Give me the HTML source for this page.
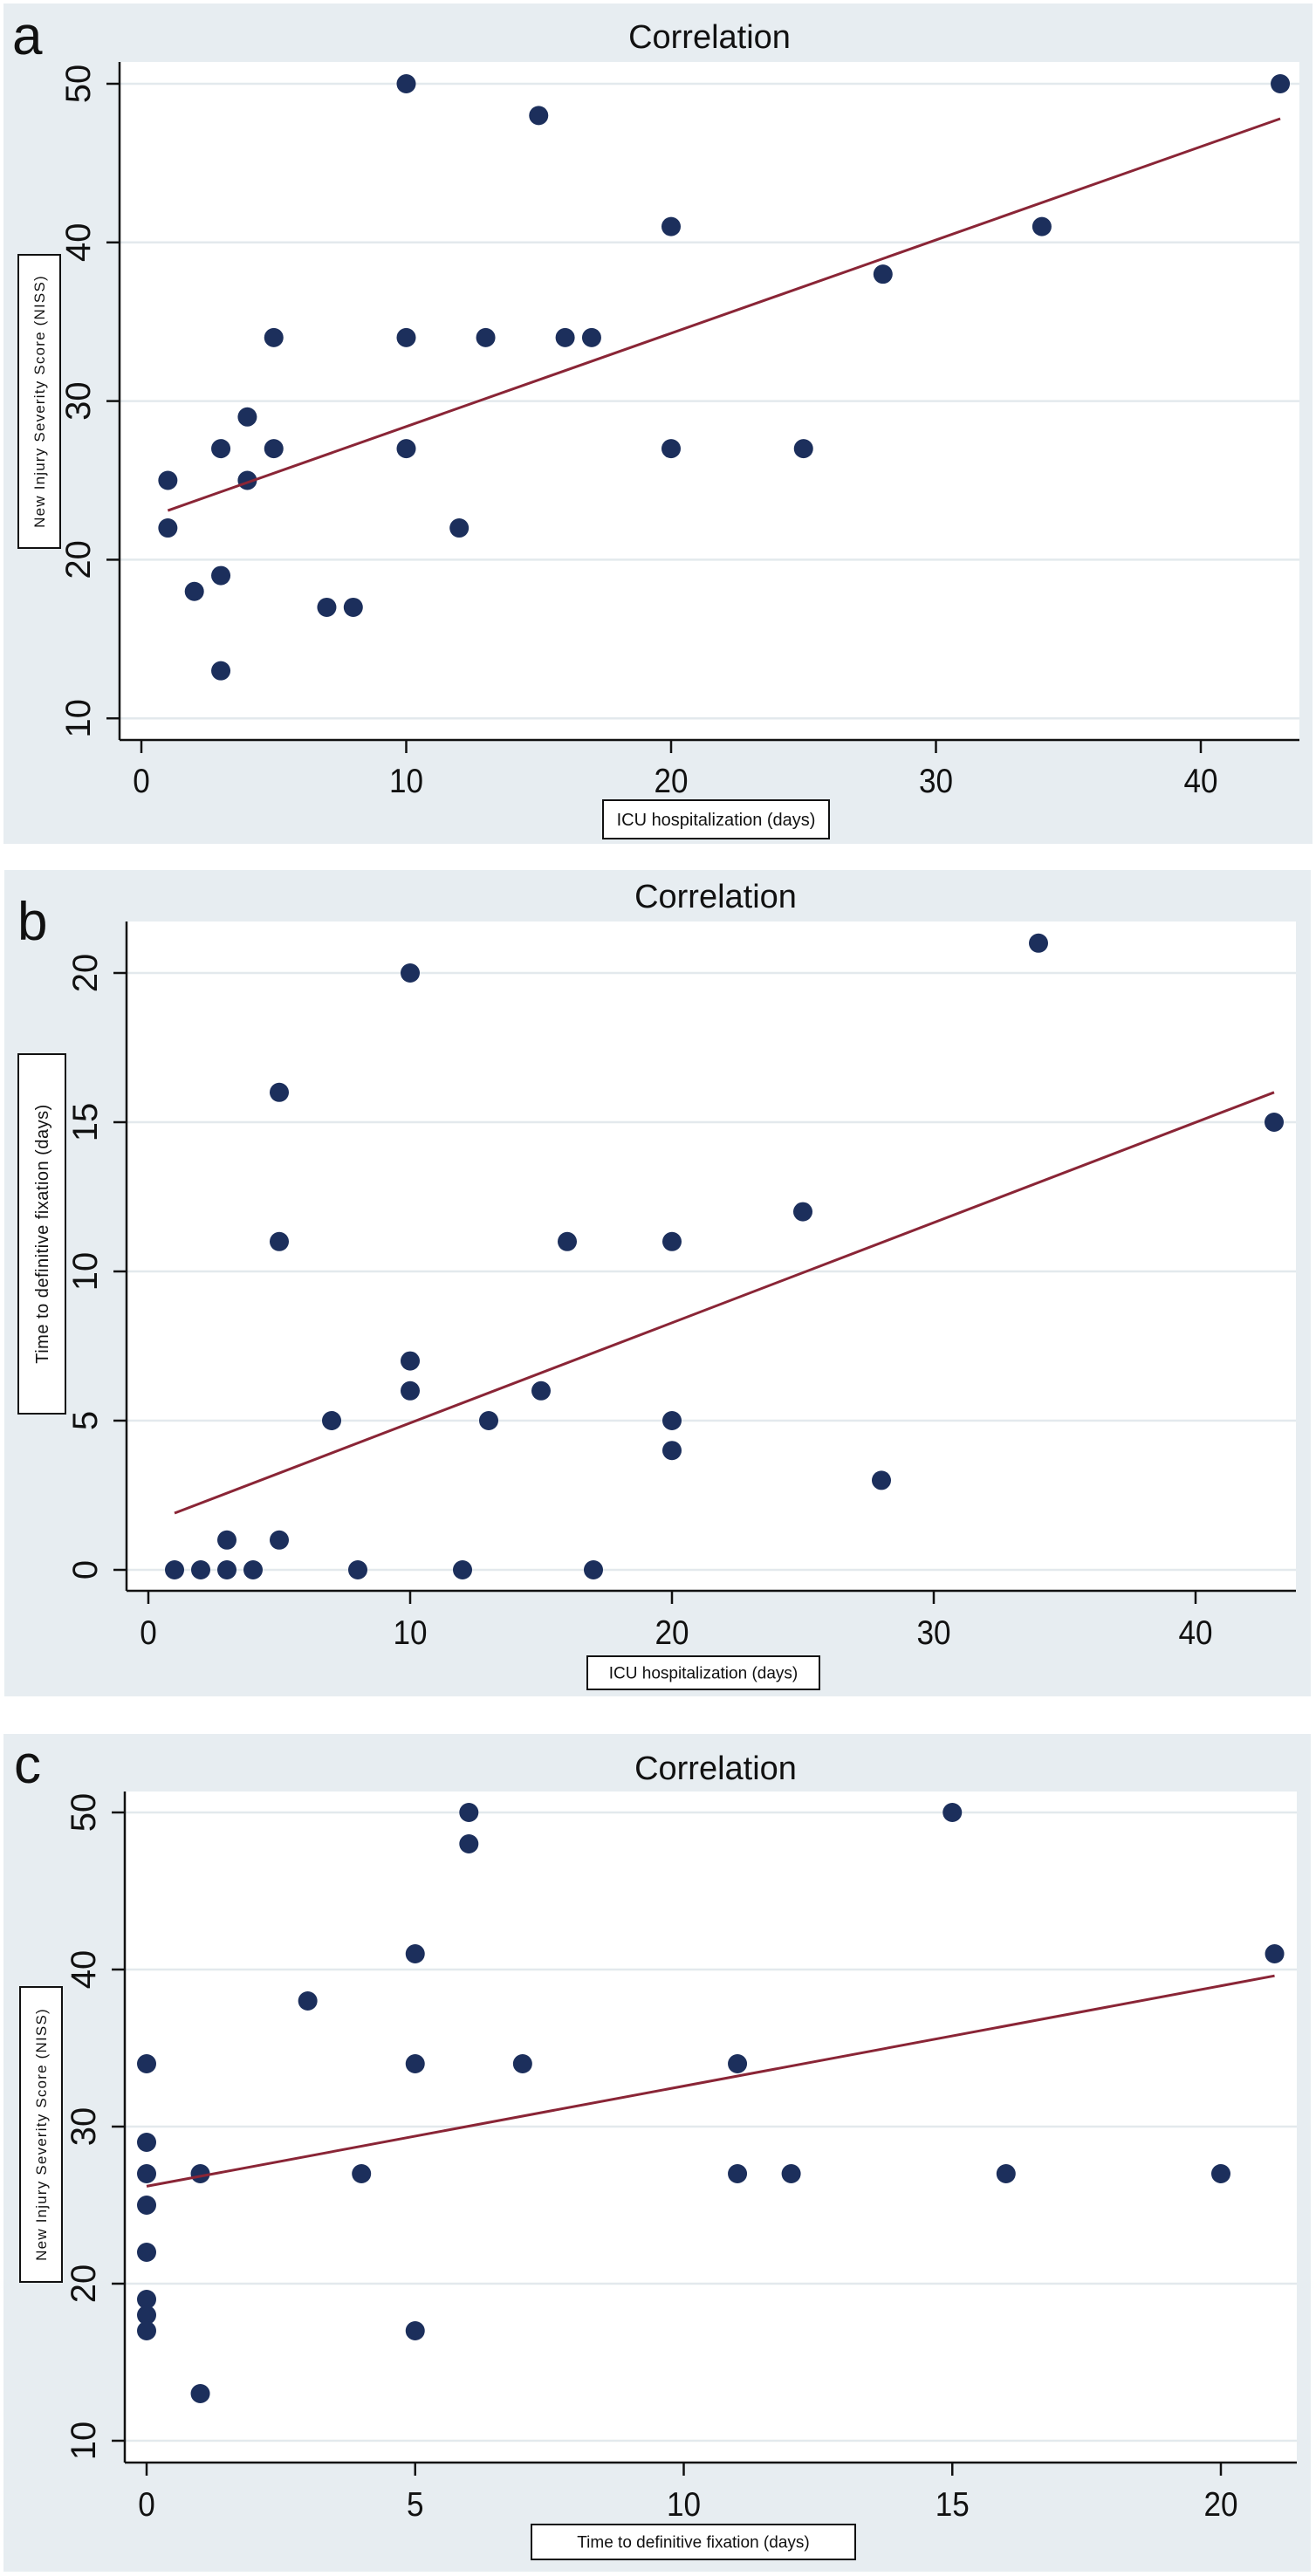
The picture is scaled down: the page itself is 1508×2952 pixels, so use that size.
<!DOCTYPE html>
<html><head><meta charset="utf-8"><style>
html,body{margin:0;padding:0;background:#fff;}
svg{display:block;font-family:"Liberation Sans",Arial,sans-serif;}
</style></head><body>
<svg id="root" width="1508" height="2952" viewBox="0 0 1508 2952"></svg>
<script>
// Panel a data: ICU days vs NISS
const aX = [1,1,2,3,3,3,4,4,5,5,7,8,10,10,10,12,13,15,16,17,20,20,25,28,34,43];
const aY = [25,22,18,27,19,13,29,25,34,27,17,17,50,34,27,22,34,48,34,34,41,27,27,38,41,50];
const aFit = [[1,23.1],[43,47.8]];
const aXTicks = [0,10,20,30,40];
const aYTicks = [10,20,30,40,50];
// Panel b data: ICU days vs time to fixation
const bX = [1,2,3,3,4,5,5,5,7,8,10,10,10,12,13,15,16,17,20,20,20,25,28,34,43];
const bY = [0,0,1,0,0,16,11,1,5,0,20,7,6,0,5,6,11,0,11,5,4,12,3,21,15];
const bFit = [[1,1.9],[43,16.0]];
const bXTicks = [0,10,20,30,40];
const bYTicks = [0,5,10,15,20];
// Panel c data: time to fixation vs NISS
const cX = [0,0,0,0,0,0,0,0,1,1,3,4,5,5,5,6,6,7,11,11,12,15,16,20,21];
const cY = [34,29,27,25,22,19,18,17,27,13,38,27,41,34,17,50,48,34,34,27,27,50,27,27,41];
const cFit = [[0,26.2],[21,39.6]];
const cXTicks = [0,5,10,15,20];
const cYTicks = [10,20,30,40,50];

const NS='http://www.w3.org/2000/svg';
const root=document.getElementById('root');
function mk(tag,attrs,parent,text){const e=document.createElementNS(NS,tag);for(const k in attrs)e.setAttribute(k,attrs[k]);if(text!==undefined)e.textContent=text;(parent||root).appendChild(e);return e;}

function panel(cfg){
  const g=mk('g',{});
  
  
  const bg=mk('rect',{x:cfg.bg[0],y:cfg.bg[1],width:cfg.bg[2]-cfg.bg[0],height:cfg.bg[3]-cfg.bg[1],fill:'#e7edf1'},g);
  
  
  const P=cfg.plot; // left, top, right, bottom(axis)
  const pr=mk('rect',{x:P[0],y:P[1],width:P[2]-P[0],height:P[3]-P[1],fill:'#fff'},g);
  
  
  const sx=v=>cfg.x0px+(v-cfg.x0v)*cfg.xs;
  const sy=v=>cfg.y0px-(v-cfg.y0v)*cfg.ys;
  // gridlines & y ticks
  cfg.yTicks.forEach(t=>{
    const gl=mk('line',{x1:P[0],x2:P[2],y1:sy(t),y2:sy(t),stroke:'#e3e9ed','stroke-width':2.5},g);
    
    
    const tk=mk('line',{x1:P[0]-15,x2:P[0],y1:sy(t),y2:sy(t),stroke:'#111','stroke-width':2.5},g);
    
    
    const lb=mk('text',{x:0,y:0,transform:`translate(${P[0]-34},${sy(t)}) rotate(-90)`,'text-anchor':'middle','font-size':40,fill:'#111'},g,String(t));
    
    
  });
  cfg.xTicks.forEach(t=>{
    const tk=mk('line',{x1:sx(t),x2:sx(t),y1:P[3],y2:P[3]+15,stroke:'#111','stroke-width':2.5},g);
    
    
    const lb=mk('text',{x:sx(t),y:cfg.xLabY+14,'text-anchor':'middle','font-size':39,fill:'#111',transform:`translate(${sx(t)},0) scale(0.9,1) translate(${-sx(t)},0)`},g,String(t));
    
    
  });
  const ya=mk('line',{x1:P[0],x2:P[0],y1:P[1],y2:P[3],stroke:'#111','stroke-width':2.5},g);
  
  
  const xa=mk('line',{x1:P[0],x2:P[2],y1:P[3],y2:P[3],stroke:'#111','stroke-width':2.5},g);
  
  
  // points
  cfg.xs_.forEach((xv,i)=>{
    const c=mk('circle',{cx:sx(xv),cy:sy(cfg.ys_[i]),r:11,fill:'#1c2f5c'},g);
    
    
  });
  const fl=mk('line',{x1:sx(cfg.fit[0][0]),y1:sy(cfg.fit[0][1]),x2:sx(cfg.fit[1][0]),y2:sy(cfg.fit[1][1]),stroke:'#8a2536','stroke-width':3},g);
  
  
  // title
  const tt=mk('text',{x:cfg.title[0],y:cfg.title[1]+13,'text-anchor':'middle','font-size':38,fill:'#111'},g,'Correlation');
  
  
  const pl=mk('text',{x:cfg.letter[0],y:cfg.letter[1],'font-size':62,fill:'#111'},g,cfg.id);
  
  
  // y title box
  const yb=cfg.ybox;
  const ybr=mk('rect',{x:yb[0],y:yb[1],width:yb[2]-yb[0],height:yb[3]-yb[1],fill:'#fff',stroke:'#111','stroke-width':2},g);
  
  
  const ycx=(yb[0]+yb[2])/2, ycy=(yb[1]+yb[3])/2;
  const yt=mk('text',{x:0,y:0,transform:`translate(${ycx+cfg.yfs*0.35},${ycy}) rotate(-90)`,'text-anchor':'middle','font-size':cfg.yfs,fill:'#111','letter-spacing':cfg.yls},g,cfg.ytitle);
  
  
  const xb=cfg.xbox;
  const xbr=mk('rect',{x:xb[0],y:xb[1],width:xb[2]-xb[0],height:xb[3]-xb[1],fill:'#fff',stroke:'#111','stroke-width':2},g);
  
  
  const xt=mk('text',{x:(xb[0]+xb[2])/2,y:(xb[1]+xb[3])/2+cfg.xfs*0.35,'text-anchor':'middle','font-size':cfg.xfs,fill:'#111'},g,cfg.xtitle);
  
  
}

panel({id:'a',bg:[4,4,1504,967],plot:[137,71,1489,848],x0v:0,x0px:162,xs:30.35,y0v:50,y0px:96,ys:18.18,
  xTicks:aXTicks,yTicks:aYTicks,xs_:aX,ys_:aY,fit:aFit,xLabY:894,title:[813,42],letter:[14,62],
  ybox:[21,292,69,628],ytitle:'New Injury Severity Score (NISS)',yfs:17,yls:1.2,
  xbox:[691,917,950,961],xtitle:'ICU hospitalization (days)',xfs:20});
panel({id:'b',bg:[5,997,1502,1944],plot:[145,1056,1485,1823],x0v:0,x0px:170,xs:30.0,y0v:0,y0px:1799,ys:34.2,
  xTicks:bXTicks,yTicks:bYTicks,xs_:bX,ys_:bY,fit:bFit,xLabY:1870,title:[820,1027],letter:[20,1077],
  ybox:[21,1208,75,1620],ytitle:'Time to definitive fixation (days)',yfs:20,yls:0.5,
  xbox:[673,1898,939,1936],xtitle:'ICU hospitalization (days)',xfs:19});
panel({id:'c',bg:[4,1987,1502,2947],plot:[143,2053,1486,2822],x0v:0,x0px:168,xs:61.55,y0v:50,y0px:2077,ys:18.0,
  xTicks:cXTicks,yTicks:cYTicks,xs_:cX,ys_:cY,fit:cFit,xLabY:2869,title:[820,2026],letter:[16,2043],
  ybox:[23,2277,71,2615],ytitle:'New Injury Severity Score (NISS)',yfs:17,yls:1.2,
  xbox:[609,2893,980,2933],xtitle:'Time to definitive fixation (days)',xfs:19});
</script>
</body></html>
